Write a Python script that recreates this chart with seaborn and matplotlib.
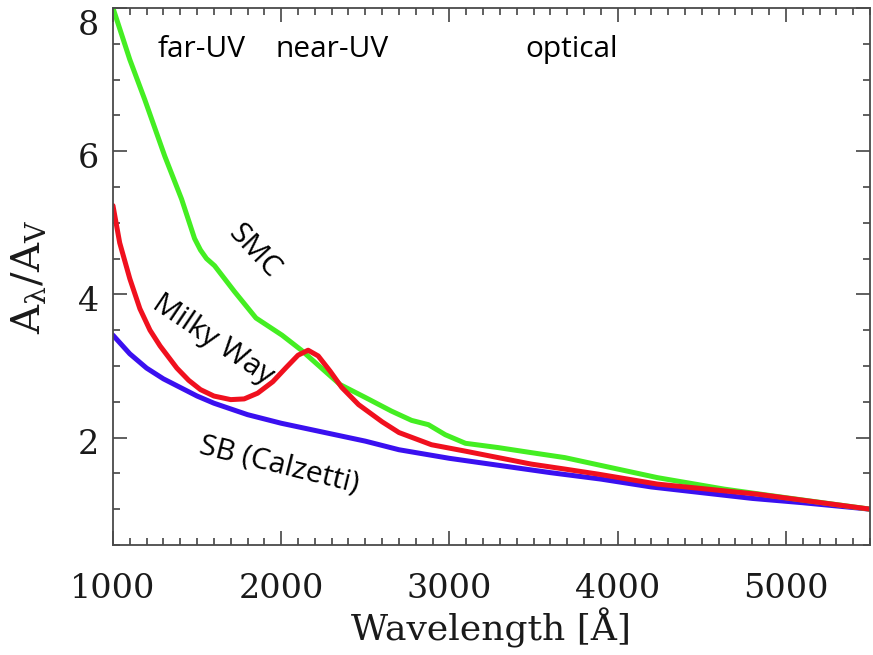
import matplotlib
matplotlib.use("Agg")
import matplotlib.pyplot as plt
from matplotlib.ticker import MultipleLocator, FixedLocator
from matplotlib.transforms import ScaledTranslation
import seaborn as sns
import pandas as pd

# Attenuation curves, normalised to A_V (wavelength in Angstrom)
smc_wave = [1000, 1100, 1189, 1308, 1408, 1485, 1520, 1556, 1604, 1722, 1850, 2005,
            2120, 2350, 2500, 2655, 2775, 2875, 2975, 3095, 3290, 3485, 3686, 3882,
            4237, 4633, 5000, 5500]
smc_ext = [8.0, 7.28, 6.72, 5.93, 5.33, 4.78, 4.62, 4.50, 4.40, 4.04, 3.67, 3.43,
           3.22, 2.74, 2.56, 2.37, 2.24, 2.18, 2.04, 1.92, 1.86, 1.79, 1.72, 1.62,
           1.44, 1.28, 1.16, 1.0]

mw_wave = [1000, 1040, 1100, 1160, 1220, 1280, 1380, 1450, 1520, 1600, 1700, 1780,
           1860, 1950, 2030, 2100, 2160, 2220, 2290, 2360, 2460, 2600, 2700, 2893,
           3095, 3290, 3485, 3686, 3882, 4237, 4828, 5500]
mw_ext = [5.24, 4.72, 4.22, 3.80, 3.50, 3.28, 2.97, 2.80, 2.67, 2.58, 2.53, 2.54,
          2.62, 2.78, 2.98, 3.15, 3.22, 3.14, 2.93, 2.70, 2.46, 2.22, 2.07, 1.90,
          1.81, 1.72, 1.63, 1.56, 1.49, 1.35, 1.21, 1.0]

sb_wave = [1000, 1100, 1200, 1300, 1400, 1500, 1600, 1800, 2000, 2200, 2500, 2700,
           3000, 3300, 3600, 3900, 4200, 4500, 4800, 5100, 5500]
sb_ext = [3.43, 3.17, 2.97, 2.82, 2.70, 2.58, 2.48, 2.32, 2.20, 2.10, 1.95, 1.83,
          1.71, 1.61, 1.51, 1.42, 1.31, 1.23, 1.15, 1.09, 1.0]

x_ticks = [1000, 2000, 3000, 4000, 5000]
y_ticks = [2, 4, 6, 8]

sns.set_theme(style="ticks")
plt.rcParams["mathtext.fontset"] = "dejavuserif"

fig = plt.figure(figsize=(8.73, 6.55), dpi=100)
ax = fig.add_axes([0.1294, 0.168, 0.8672, 0.8198])
ax.set_facecolor("white")

curves = [
    (sb_wave, sb_ext, "#3a10f0"),
    (smc_wave, smc_ext, "#44ee22"),
    (mw_wave, mw_ext, "#f0101e"),
]
for wave, ext, col in curves:
    df = pd.DataFrame({"wave": wave, "ext": ext})
    sns.lineplot(data=df, x="wave", y="ext", ax=ax, color=col, linewidth=3.6,
                 sort=True, estimator=None, solid_capstyle="round",
                 solid_joinstyle="round")

ax.set_xlim(1000, 5500)
ax.set_ylim(0.5, 8)

ax.xaxis.set_major_locator(FixedLocator(x_ticks))
ax.xaxis.set_minor_locator(MultipleLocator(100))
ax.yaxis.set_major_locator(FixedLocator(y_ticks))
ax.yaxis.set_minor_locator(MultipleLocator(0.5))

ax.tick_params(which="both", direction="in", top=True, right=True, color="#444444",
               width=1.2)
ax.tick_params(which="major", length=10)
ax.tick_params(which="minor", length=5)
ax.tick_params(axis="x", which="major", pad=20)
ax.tick_params(axis="y", which="major", pad=10)

for lab in ax.get_xticklabels() + ax.get_yticklabels():
    lab.set_family("DejaVu Serif")
    lab.set_fontsize(24)
    lab.set_color("#1a1a1a")

# y labels sit a little below their ticks; the top one is kept inside the frame
for val, lab in zip(y_ticks, ax.get_yticklabels()):
    dy = -0.15 if val == 8 else -0.04
    lab.set_transform(lab.get_transform() + ScaledTranslation(0, dy, fig.dpi_scale_trans))

for sp in ax.spines.values():
    sp.set_color("#4a4a4a")
    sp.set_linewidth(1.3)

ax.set_xlabel("Wavelength [Å]", family="DejaVu Serif", fontsize=26, color="#1a1a1a",
              labelpad=2)
ax.set_ylabel(r"$\mathrm{A_{\lambda}/A_{V}}$", fontsize=29, color="#1a1a1a")
ax.yaxis.set_label_coords(-0.085, 0.5)

txt = dict(family="Open Sans", fontsize=21.5, color="black", ha="center", va="center")
ax.text(1527, 7.42, "far-UV", **txt)
ax.text(2302, 7.42, "near-UV", **txt)
ax.text(3728, 7.42, "optical", **txt)
ax.text(1840, 4.6, "SMC", rotation=-47, **txt)
ax.text(1592, 3.36, "Milky Way", rotation=-34, **txt)
ax.text(1990, 1.62, "SB (Calzetti)", rotation=-14, **txt)

fig.savefig("out.png", dpi=100, facecolor="white")
